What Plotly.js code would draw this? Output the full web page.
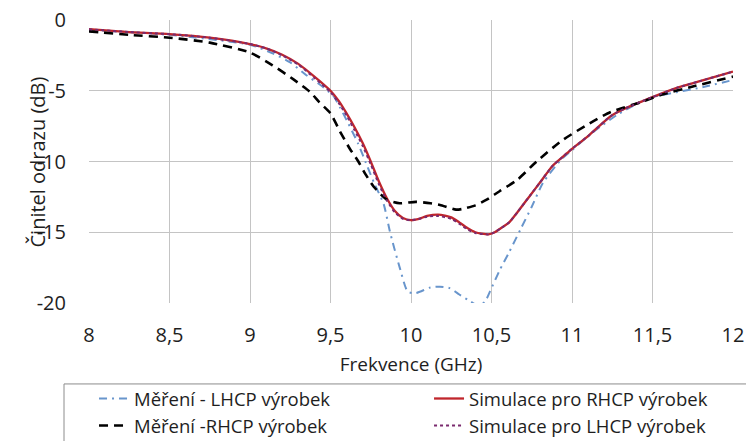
<!DOCTYPE html>
<html>
<head>
<meta charset="utf-8">
<script src="https://cdn.plot.ly/plotly-3.0.1.min.js"></script>
<style>html,body{margin:0;padding:0;background:#fff;}#chart{width:746px;height:441px;}</style>
</head>
<body>
<div id="chart"></div>
<script>
// Měření - LHCP výrobek (blue dash-dot)
const freqMerLHCP = [8.0, 8.5, 9.0, 9.14, 9.25, 9.35, 9.45, 9.52, 9.56, 9.61, 9.67, 9.72, 9.77, 9.83, 9.87, 9.93, 9.98, 10.03, 10.12, 10.18, 10.24, 10.3, 10.37, 10.42, 10.46, 10.49, 10.55, 10.61, 10.68, 10.75, 10.82, 10.93, 11.0, 11.09, 11.18, 11.28, 11.4, 11.5, 11.65, 11.81, 12.0];
const valMerLHCP = [-0.7, -1.05, -1.75, -2.35, -3.0, -3.9, -4.7, -5.4, -6.2, -7.3, -8.7, -10.1, -11.5, -13.0, -15.0, -17.5, -19.2, -19.3, -18.9, -18.85, -18.95, -19.4, -19.9, -20.2, -19.9, -19.2, -17.7, -16.4, -14.8, -13.2, -11.5, -9.9, -9.2, -8.3, -7.5, -6.7, -5.95, -5.45, -5.1, -4.75, -4.24];

// Simulace pro RHCP výrobek (red solid)
const freqSimRHCP = [8.0, 8.25, 8.5, 8.75, 9.0, 9.1, 9.2, 9.3, 9.4, 9.5, 9.55, 9.6, 9.65, 9.7, 9.75, 9.8, 9.85, 9.9, 9.95, 10.0, 10.05, 10.1, 10.17, 10.25, 10.3, 10.35, 10.4, 10.48, 10.52, 10.56, 10.61, 10.66, 10.74, 10.8, 10.88, 10.95, 11.0, 11.1, 11.24, 11.32, 11.5, 11.65, 11.8, 12.0];
const valSimRHCP = [-0.65, -0.85, -1.0, -1.25, -1.7, -2.0, -2.45, -3.1, -4.0, -5.0, -5.7, -6.6, -7.6, -8.7, -10.0, -11.4, -12.6, -13.5, -14.0, -14.15, -14.05, -13.85, -13.75, -13.95, -14.3, -14.7, -15.0, -15.15, -15.0, -14.7, -14.3, -13.6, -12.4, -11.5, -10.3, -9.6, -9.1, -8.2, -6.8, -6.3, -5.45, -4.8, -4.3, -3.65];

// Měření -RHCP výrobek (black dashed)
const freqMerRHCP = [8.0, 8.25, 8.5, 8.75, 9.0, 9.14, 9.27, 9.37, 9.43, 9.5, 9.56, 9.62, 9.67, 9.72, 9.77, 9.85, 9.93, 10.03, 10.12, 10.18, 10.28, 10.32, 10.4, 10.47, 10.55, 10.66, 10.78, 10.94, 11.11, 11.24, 11.44, 11.55, 11.75, 12.0];
const valMerRHCP = [-0.8, -1.05, -1.25, -1.6, -2.3, -3.2, -4.2, -5.05, -5.8, -6.6, -7.9, -9.1, -9.95, -10.95, -11.8, -12.7, -12.95, -12.85, -12.95, -13.07, -13.4, -13.35, -13.1, -12.7, -12.1, -11.3, -10.0, -8.5, -7.3, -6.5, -5.77, -5.3, -4.7, -4.0];

// Simulace pro LHCP výrobek (purple dotted)
const freqSimLHCP = [8.0, 8.25, 8.5, 8.75, 9.0, 9.1, 9.2, 9.3, 9.4, 9.5, 9.55, 9.6, 9.65, 9.7, 9.75, 9.8, 9.85, 9.9, 9.95, 10.0, 10.05, 10.1, 10.17, 10.25, 10.3, 10.35, 10.4, 10.48, 10.52, 10.56, 10.61, 10.66, 10.74, 10.8, 10.88, 10.95, 11.0, 11.1, 11.24, 11.32, 11.5, 11.65, 11.8, 12.0];
const valSimLHCP = [-0.65, -0.85, -1.0, -1.25, -1.7, -2.0, -2.5, -3.15, -4.1, -5.1, -5.85, -6.75, -7.8, -8.9, -10.2, -11.6, -12.75, -13.6, -14.05, -14.15, -14.05, -13.9, -13.85, -14.05, -14.4, -14.8, -15.05, -15.15, -15.0, -14.7, -14.3, -13.6, -12.4, -11.5, -10.3, -9.6, -9.1, -8.2, -6.8, -6.3, -5.45, -4.8, -4.3, -3.65];

const xTickVals = [8, 8.5, 9, 9.5, 10, 10.5, 11, 11.5, 12];
const xTickText = ['8', '8,5', '9', '9,5', '10', '10,5', '11', '11,5', '12'];
const yTickVals = [0, -5, -10, -15, -20];
const yTickText = ['0', '-5', '-10', '-15', '-20'];

const seriesNames = ['Měření - LHCP výrobek', 'Simulace pro RHCP výrobek', 'Měření -RHCP výrobek', 'Simulace pro LHCP výrobek'];
const xTitle = 'Frekvence (GHz)';
const yTitle = 'Činitel odrazu (dB)';

const FONT = 'Open Sans, Noto Sans, sans-serif';
const TXT = '#1e1e1e';

const traces = [
  {x: freqMerLHCP, y: valMerLHCP, name: seriesNames[0], legend: 'legend', mode: 'lines', line: {color: '#6895CC', width: 2, dash: '8px,5px,2px,5px', shape: 'spline', smoothing: 0.6}},
  {x: freqSimRHCP, y: valSimRHCP, name: seriesNames[1], legend: 'legend2', mode: 'lines', line: {color: '#C0262C', width: 2.3, shape: 'spline', smoothing: 0.6}},
  {x: freqMerRHCP, y: valMerRHCP, name: seriesNames[2], legend: 'legend', mode: 'lines', line: {color: '#000000', width: 2.6, dash: '9px,6px', shape: 'spline', smoothing: 0.6}},
  {x: freqSimLHCP, y: valSimLHCP, name: seriesNames[3], legend: 'legend2', mode: 'lines', line: {color: '#7A2A6E', width: 2, dash: 'dot', shape: 'spline', smoothing: 0.6}}
];

const legendBase = {
  orientation: 'v', xanchor: 'left', yanchor: 'top', y: -0.272,
  itemwidth: 30, traceorder: 'normal',
  font: {family: FONT, size: 18.5, color: TXT},
  bgcolor: 'rgba(0,0,0,0)', borderwidth: 0
};

const layout = {
  width: 746, height: 441,
  margin: {l: 89, r: 13, t: 20, b: 138, autoexpand: false},
  paper_bgcolor: '#ffffff', plot_bgcolor: '#ffffff',
  font: {family: FONT, size: 19, color: TXT},
  showlegend: true,
  legend: Object.assign({}, legendBase, {x: 0.0078}),
  legend2: Object.assign({}, legendBase, {x: 0.528}),
  xaxis: {
    range: [8, 12], tickvals: xTickVals, ticktext: xTickText,
    showgrid: true, gridcolor: '#C4C4C4', gridwidth: 1,
    zeroline: false, showline: false, ticks: '', ticklabelstandoff: 18,
    automargin: false,
    tickfont: {family: FONT, size: 20, color: TXT},
    title: {text: xTitle, font: {family: FONT, size: 19, color: TXT}, standoff: 10}
  },
  yaxis: {
    range: [-20, 0], tickvals: yTickVals, ticktext: yTickText,
    showgrid: true, gridcolor: '#C4C4C4', gridwidth: 1,
    zeroline: false, showline: false, ticks: '', ticklabelstandoff: 22,
    automargin: false,
    tickfont: {family: FONT, size: 20, color: TXT}
  },
  annotations: [
    {text: yTitle, xref: 'paper', yref: 'paper', x: -0.0792, y: 0.5, xanchor: 'center', yanchor: 'middle', textangle: -90, showarrow: false, font: {family: FONT, size: 20, color: TXT}}
  ],
  shapes: [
    {type: 'rect', xref: 'paper', yref: 'paper', x0: -0.0388, x1: 1.03, y0: -0.286, y1: -0.6, line: {color: '#8C8C8C', width: 1}, fillcolor: 'rgba(0,0,0,0)'}
  ]
};

Plotly.newPlot('chart', traces, layout, {displayModeBar: false, staticPlot: true});
</script>
</body>
</html>
